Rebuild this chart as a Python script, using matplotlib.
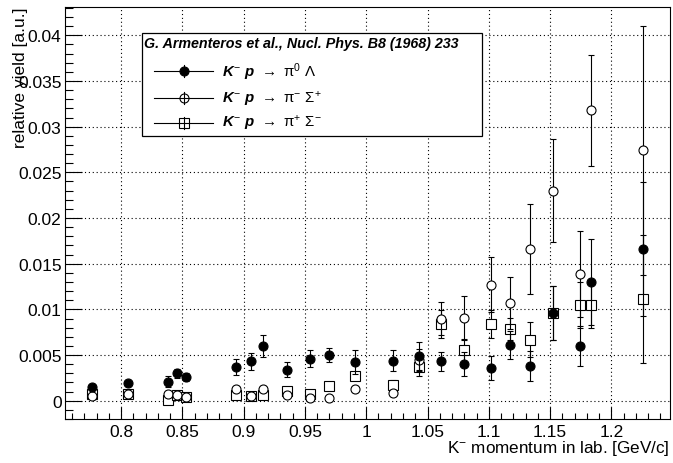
import numpy as np
import matplotlib
matplotlib.use('Agg')
import matplotlib.pyplot as plt
from matplotlib.ticker import MultipleLocator, FuncFormatter
from matplotlib.lines import Line2D
from matplotlib.patches import Rectangle

plt.rcParams['font.family'] = ['Liberation Sans', 'DejaVu Sans']
plt.rcParams['mathtext.fontset'] = 'custom'
plt.rcParams['mathtext.rm'] = 'Liberation Sans'
plt.rcParams['mathtext.it'] = 'Liberation Sans:italic:bold'
plt.rcParams['mathtext.bf'] = 'Liberation Sans:bold'

# K- momentum in lab [GeV/c]
p_lab = [0.776, 0.806, 0.838, 0.846, 0.853, 0.894, 0.906, 0.916, 0.935, 0.954,
         0.970, 0.991, 1.022, 1.043, 1.061, 1.080, 1.102, 1.117, 1.134, 1.152,
         1.174, 1.183, 1.226]

# K- p -> pi0 Lambda
y_lam = [0.0015, 0.0019, 0.0021, 0.0030, 0.0026, 0.0037, 0.0043, 0.0060, 0.0034, 0.0046,
         0.0050, 0.0042, 0.0044, 0.0049, 0.0043, 0.0040, 0.0036, 0.0061, 0.0038, 0.0096,
         0.0060, 0.0130, 0.0166]
e_lam = [0.0003, 0.0003, 0.0006, 0.0005, 0.0004, 0.0009, 0.0009, 0.0012, 0.0008, 0.0009,
         0.0008, 0.0013, 0.0012, 0.0015, 0.0010, 0.0013, 0.0013, 0.0015, 0.0016, 0.0030,
         0.0022, 0.0047, 0.0073]

# K- p -> pi- Sigma+
y_sp = [0.0005, 0.0007, 0.0007, 0.0006, 0.0004, 0.0013, 0.0005, 0.0013, 0.0006, 0.0003,
        0.0003, 0.0013, 0.0009, 0.0045, 0.0090, 0.0091, 0.0127, 0.0107, 0.0166, 0.0230,
        0.0139, 0.0318, 0.0274]
e_sp = [0.0002, 0.0002, 0.0002, 0.0002, 0.0002, 0.0003, 0.0002, 0.0003, 0.0002, 0.0002,
        0.0002, 0.0003, 0.0003, 0.0012, 0.0018, 0.0024, 0.0030, 0.0028, 0.0049, 0.0056,
        0.0047, 0.0061, 0.0136]

# K- p -> pi+ Sigma-
y_sm = [0.0007, 0.0007, 0.0001, 0.0006, 0.0004, 0.0006, 0.0005, 0.0006, 0.0011, 0.0007,
        0.0016, 0.0027, 0.0017, 0.0037, 0.0084, 0.0055, 0.0084, 0.0079, 0.0067, 0.0096,
        0.0105, 0.0105, 0.0111]
e_sm = [0.0002, 0.0002, 0.0001, 0.0002, 0.0002, 0.0002, 0.0002, 0.0002, 0.0002, 0.0002,
        0.0003, 0.0004, 0.0006, 0.0010, 0.0015, 0.0013, 0.0015, 0.0012, 0.0019, 0.0030,
        0.0025, 0.0025, 0.0070]

labels = [r'$K^{-}\ p\ \rightarrow\ \mathrm{\pi}^{0}\ \mathrm{\Lambda}$',
          r'$K^{-}\ p\ \rightarrow\ \mathrm{\pi}^{-}\ \mathrm{\Sigma}^{+}$',
          r'$K^{-}\ p\ \rightarrow\ \mathrm{\pi}^{+}\ \mathrm{\Sigma}^{-}$']
header = 'G. Armenteros et al., Nucl. Phys. B8 (1968) 233'

W, H = 673, 464
fig = plt.figure(figsize=(W / 100, H / 100), dpi=100)
ax = fig.add_axes([65 / W, 44 / H, 605 / W, 412 / H])

ms = 6.5
eb = dict(ls='none', ecolor='black', elinewidth=0.8, capsize=2.2, capthick=0.8)
ax.errorbar(p_lab, y_sm, yerr=e_sm, marker='s', ms=ms, mfc='white', mec='black',
            mew=0.8, zorder=3, **eb)
ax.errorbar(p_lab, y_sp, yerr=e_sp, marker='o', ms=ms, mfc='white', mec='black',
            mew=0.8, zorder=4, **eb)
ax.errorbar(p_lab, y_lam, yerr=e_lam, marker='o', ms=ms, mfc='black', mec='black',
            mew=0.8, zorder=5, **eb)

ax.set_xlim(0.7543, 1.2478)
ax.set_ylim(-0.0020, 0.0431)
ax.xaxis.set_major_locator(MultipleLocator(0.05))
ax.xaxis.set_minor_locator(MultipleLocator(0.01))
ax.yaxis.set_major_locator(MultipleLocator(0.005))
ax.yaxis.set_minor_locator(MultipleLocator(0.001))
fmt = FuncFormatter(lambda v, pos: '%g' % round(v, 4))
ax.xaxis.set_major_formatter(fmt)
ax.yaxis.set_major_formatter(fmt)

ax.tick_params(axis='both', which='both', direction='in', width=0.8,
               labelsize=12.5, top=False, right=False)
ax.tick_params(axis='y', which='major', length=12, pad=2.5)
ax.tick_params(axis='y', which='minor', length=6)
ax.tick_params(axis='x', which='major', length=8.5, pad=3.5)
ax.tick_params(axis='x', which='minor', length=4.5)
for s in ax.spines.values():
    s.set_linewidth(0.8)

ax.grid(True, which='major', color='black', linestyle=(0, (1, 2.5)), linewidth=0.8)
ax.set_axisbelow(True)

fig.text(21 / W, 1 - 8 / H, 'relative yield [a.u.]', rotation=90,
         ha='center', va='top', fontsize=12.5)
fig.text(670 / W, 1 - 449 / H, r'K$^{-}$ momentum in lab. [GeV/c]',
         ha='right', va='center', fontsize=12.3)

# legend box
def fx(px):
    return px / W

def fy(py):
    return 1 - py / H

fig.add_artist(Rectangle((fx(142), fy(137)), fx(482) - fx(142), fy(34) - fy(137),
                         transform=fig.transFigure, facecolor='white',
                         edgecolor='black', linewidth=0.9, zorder=10))
fig.text(fx(144), fy(44), header, fontsize=10.3, fontweight='bold', style='italic',
         ha='left', va='center', zorder=11)

rows = [72, 99, 124]
styles = [('o', 'black'), ('o', 'none'), ('s', 'none')]
for ry, (mk, fc), lab in zip(rows, styles, labels):
    fig.add_artist(Line2D([fx(154), fx(213)], [fy(ry), fy(ry)], color='black',
                          linewidth=0.8, transform=fig.transFigure, zorder=11))
    fig.add_artist(Line2D([fx(184), fx(184)], [fy(ry - 6), fy(ry + 6)], color='black',
                          linewidth=0.8, transform=fig.transFigure, zorder=11))
    fig.add_artist(Line2D([fx(184)], [fy(ry)], marker=mk, ms=ms, mfc=fc, mec='black',
                          mew=0.8, transform=fig.transFigure, zorder=12))
    fig.text(fx(222), fy(ry), lab, fontsize=10.8, ha='left', va='center', zorder=11)

fig.savefig('out.png', dpi=100)
